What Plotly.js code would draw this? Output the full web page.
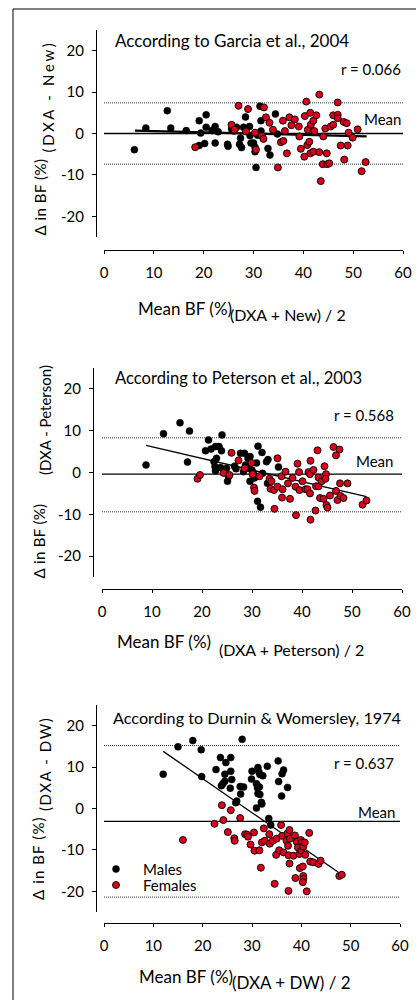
<!DOCTYPE html>
<html>
<head>
<meta charset="utf-8">
<script src="https://cdn.plot.ly/plotly-3.0.1.min.js"></script>
<style>html,body{margin:0;padding:0;background:#fff;}</style>
</head>
<body>
<div id="chart" style="width:416px;height:1000px;"></div>
<script>
// ---------- tick labels ----------
const xTickVals = [0, 10, 20, 30, 40, 50, 60];
const xTickText = ['0', '10', '20', '30', '40', '50', '60'];
const yTickVals = [-20, -10, 0, 10, 20];
const yTickText = ['-20', '-10', '0', '10', '20'];

// ---------- Panel 1: Garcia et al., 2004 ----------
const p1MaleX = [6.1, 8.4, 12.7, 13.4, 16.5, 19.1, 19.4, 19.1, 20.2, 20.5, 20.5, 21.7, 22.3, 22.3, 22.9, 24.8, 24.9, 25.6, 26.1, 26.6, 27.2, 27.4, 27.6, 28.0, 28.4, 29.2, 29.3, 29.5, 30.0, 30.3, 30.3, 30.5, 31.3, 31.5, 31.5, 32.9, 33.3, 34.4, 34.8, 30.8];
const p1MaleY = [-3.9, 1.3, 5.5, 1.3, 0.7, 3.1, 0.1, -2.9, -2.4, 4.5, 1.5, 0.7, 1.7, -2.3, 0.4, -2.6, -3.1, 1.1, 0.6, 1.5, -2.6, -1.1, -3.4, 1.5, 4.0, 1.7, -0.5, -2.3, -2.3, -3.3, -4.4, -8.2, 6.6, 3.1, 0.6, -3.6, -5.2, 4.7, -0.1, -0.4];
const p1FemX = [18.3, 25.6, 26.2, 27.0, 28.5, 28.9, 30.3, 30.5, 31.7, 32.0, 32.1, 32.5, 33.2, 33.9, 34.9, 35.5, 35.9, 36.0, 36.3, 36.7, 37.2, 37.6, 38.3, 39.1, 39.2, 39.5, 40.2, 40.3, 40.6, 40.8, 40.9, 41.2, 41.4, 41.4, 41.5, 42.0, 42.0, 42.2, 42.6, 43.2, 43.2, 43.5, 43.9, 44.0, 44.4, 44.7, 44.8, 45.2, 45.5, 46.0, 46.0, 46.9, 46.9, 46.9, 47.5, 48.1, 48.2, 48.7, 48.9, 49.1, 49.9, 50.9, 51.7, 52.5];
const p1FemY = [-3.3, 2.1, 0.9, 6.7, 0.5, 5.9, 0.2, -3.9, -0.6, -1.3, 6.3, 3.9, 2.6, 0.9, -8.2, -2.1, 3.1, -1.8, 0.6, -4.8, 3.9, 2.0, 3.4, 1.7, -0.7, -3.7, -5.6, 4.2, 7.7, -2.8, 0.9, -2.0, 5.0, -4.8, 2.1, 3.1, -4.4, 0.6, 4.4, -4.5, 9.4, -11.5, -7.4, -0.7, 1.2, -4.8, -7.4, -7.2, 1.7, 4.4, 2.1, 7.5, 4.5, 3.7, -2.9, 2.8, -6.3, 2.5, -2.9, 0.2, -1.0, 1.0, -9.1, -6.9];
const p1FitX = [6.2, 52.7];
const p1FitY = [0.7, -0.7];
const p1Mean = 0;
const p1Limits = [7.4, -7.4];
const p1R = 'r = 0.066';

// ---------- Panel 2: Peterson et al., 2003 ----------
const p2MaleX = [8.8, 12.3, 15.6, 17.5, 17.1, 21.3, 20.7, 21.8, 22.7, 23.4, 24.0, 23.9, 22.9, 22.4, 22.6, 22.7, 23.7, 24.9, 25.1, 25.3, 26.5, 26.8, 27.7, 28.5, 29.2, 29.6, 28.7, 28.3, 29.3, 30.0, 30.3, 29.6, 30.5, 30.9, 31.2, 32.0, 32.1, 31.1, 31.7, 32.9, 33.2, 33.1, 35.3];
const p2MaleY = [1.8, 9.3, 11.9, 9.9, 2.5, 7.8, 5.2, 5.6, 6.2, 6.2, 9.0, 5.2, 3.4, 2.6, 1.4, 0.4, 1.2, 1.0, -2.1, -1.0, 1.5, 0.9, 4.6, 4.6, 3.4, 3.8, 1.8, 0.2, 1.0, 0.6, -0.2, -2.1, -1.3, 2.3, 6.3, 4.8, -0.2, -6.9, -8.3, 2.6, 3.1, -2.6, 1.3];
const p2FemX = [19.1, 19.6, 24.3, 25.5, 25.9, 27.3, 28.5, 29.9, 30.1, 30.4, 30.5, 31.5, 33.5, 33.9, 33.7, 34.5, 34.4, 35.1, 35.1, 35.9, 36.1, 36.0, 36.7, 37.2, 37.6, 38.1, 38.7, 38.8, 39.1, 39.4, 39.5, 40.1, 40.7, 41.1, 41.3, 41.6, 41.6, 41.7, 41.7, 42.3, 42.7, 42.8, 43.1, 43.3, 43.3, 43.6, 43.9, 44.3, 44.5, 44.8, 44.7, 44.9, 45.1, 45.6, 46.3, 46.8, 46.8, 47.1, 47.5, 47.6, 47.7, 48.3, 49.1, 52.1, 52.9];
const p2FemY = [-1.5, -0.6, -0.1, -0.6, 4.7, 2.9, 1.0, 2.3, -0.4, -3.6, -4.4, -0.9, -1.5, -2.1, -3.9, -8.7, -4.2, 3.4, -3.4, -0.9, -4.0, -6.0, 0.2, -2.6, -6.3, -1.3, -3.4, -10.2, 2.1, 0.1, -4.2, -2.1, -4.0, -4.0, 0.1, -0.4, -5.0, 2.8, -11.3, 0.6, -9.1, -3.3, 5.3, -1.2, -3.3, -6.1, -2.1, -6.3, 1.5, -0.4, -1.5, -7.8, -8.4, -5.5, 6.1, 4.1, -4.4, -6.6, 5.5, -2.6, -5.6, -6.1, -2.6, -7.7, -6.7];
const p2FitX = [8.8, 52.9];
const p2FitY = [6.5, -5.8];
const p2Mean = -0.4;
const p2Limits = [8.3, -9.4];
const p2R = 'r = 0.568';

// ---------- Panel 3: Durnin & Womersley, 1974 ----------
const p3MaleX = [12.0, 15.0, 18.0, 19.7, 19.8, 22.7, 23.6, 24.7, 25.7, 24.5, 25.7, 25.9, 24.5, 24.1, 23.8, 25.6, 27.6, 28.3, 28.0, 27.7, 26.9, 26.7, 30.0, 29.9, 30.9, 31.2, 31.4, 31.6, 32.2, 33.1, 31.1, 31.5, 31.2, 31.6, 31.9, 32.0, 30.9, 33.4, 33.8, 35.3, 36.4, 36.1, 35.4, 36.0, 37.2];
const p3MaleY = [8.3, 14.9, 16.4, 14.2, 7.7, 9.4, 12.3, 11.1, 12.3, 8.3, 9.0, 7.0, 6.6, 6.0, 5.5, 4.9, 5.3, 5.2, 16.7, 3.5, 1.8, 1.4, 9.0, 7.1, 6.0, 9.9, 8.9, 8.2, 7.9, 10.2, 5.0, 5.2, 3.6, 3.4, 1.5, 1.1, 0.1, -2.4, -4.0, 11.5, 9.3, 8.4, 6.5, 3.0, 5.1];
const p3FemX = [16.0, 22.4, 23.9, 24.2, 25.1, 25.7, 26.4, 26.5, 27.6, 28.6, 29.0, 29.2, 29.7, 30.4, 30.5, 31.5, 31.8, 32.0, 32.4, 32.6, 33.5, 33.6, 34.2, 34.6, 34.9, 35.0, 35.5, 35.9, 36.1, 36.4, 37.0, 37.2, 37.3, 37.4, 37.6, 37.7, 37.6, 37.4, 38.4, 38.7, 38.8, 39.1, 39.3, 39.6, 39.9, 40.0, 39.7, 40.3, 40.1, 40.4, 40.4, 40.4, 40.7, 40.8, 41.1, 40.3, 41.6, 41.8, 42.4, 43.5, 43.9, 47.7, 48.2];
const p3FemY = [-7.6, -3.7, 0.8, -2.8, -5.7, -0.4, -7.2, -7.8, -2.3, -6.2, -6.3, -6.8, -8.7, -5.8, -10.2, -10.1, -14.3, -8.2, -4.8, -7.8, -6.2, -8.5, -7.8, -18.2, -11.2, -7.3, -10.1, -4.0, -6.6, -10.6, -7.8, -6.0, -9.0, -11.3, -5.2, -7.3, -13.3, -19.9, -11.4, -6.5, -16.8, -8.1, -9.4, -11.0, -7.6, -10.2, -14.4, -14.0, -8.2, -9.2, -16.3, -17.0, -8.2, -11.2, -20.0, -17.8, -5.9, -12.8, -13.0, -13.4, -12.6, -16.3, -16.0];
const p3FitX = [12.0, 47.5];
const p3FitY = [13.8, -15.4];
const p3Mean = -3.1;
const p3Limits = [15.2, -21.4];
const p3R = 'r = 0.637';

const seriesNames = ['Males', 'Females'];
const panelTitles = ['According to Garcia et al., 2004', 'According to Peterson et al., 2003', 'According to Durnin & Womersley, 1974'];
const xSubs = ['(DXA + New) / 2', '(DXA + Peterson) / 2', '(DXA + DW) / 2'];
const ySubs = ['(DXA - New)', '(DXA - Peterson)', '(DXA - DW)'];

// ---------- styling / layout helpers ----------
const W = 416, H = 1000;
const px = v => v / W;
const py = v => 1 - v / H;
const FONT = 'Lato, "Open Sans", sans-serif';
const RED = '#d9001b';
const MALE_MARKER = {size: 7, color: '#000', line: {color: '#000', width: 0.5}};
const FEM_MARKER = {size: 7, color: RED, line: {color: '#000', width: 0.9}};

const panels = [
  {mx: p1MaleX, my: p1MaleY, fx: p1FemX, fy: p1FemY, fitX: p1FitX, fitY: p1FitY, fitW: 2.2, mean: p1Mean, lim: p1Limits, r: p1R,
   xd: [104, 403], yd: [30, 237], xPos: 250, yPos: 96,
   title: [113, 40], titleSize: 17, rPos: [403, 69], meanPos: [403, 119],
   xMain: [184.5, 309], xSub: [288, 315], xSubSize: 16,
   yMain: [39, 197.5, 0.5], ySub: [47, 96.5, 2.7]},
  {mx: p2MaleX, my: p2MaleY, fx: p2FemX, fy: p2FemY, fitX: p2FitX, fitY: p2FitY, fitW: 1.3, mean: p2Mean, lim: p2Limits, r: p2R,
   xd: [102, 402], yd: [368, 577], xPos: 589, yPos: 93,
   title: [113, 378], titleSize: 16.6, rPos: [396, 415], meanPos: [395, 461],
   xMain: [164, 641], xSub: [291.5, 649], xSubSize: 16,
   yMain: [38, 541.5, 0.3], ySub: [45, 420, 0]},
  {mx: p3MaleX, my: p3MaleY, fx: p3FemX, fy: p3FemY, fitX: p3FitX, fitY: p3FitY, fitW: 1.3, mean: p3Mean, lim: p3Limits, r: p3R,
   xd: [104, 400], yd: [705, 912], xPos: 923, yPos: 96,
   title: [111, 717], titleSize: 16.2, rPos: [396, 763], meanPos: [397, 812],
   xMain: [185.5, 976], xSub: [291, 982], xSubSize: 17,
   yMain: [38, 858, 1.1], ySub: [45, 764, 1.6]}
];

const traces = [];
const shapes = [];
const annotations = [];
const layout = {
  width: W, height: H,
  margin: {l: 0, r: 0, t: 0, b: 0},
  paper_bgcolor: '#ffffff', plot_bgcolor: 'rgba(0,0,0,0)',
  font: {family: FONT, color: '#000', size: 15},
  showlegend: false,
  shapes: shapes, annotations: annotations
};

// figure frame (left and top)
shapes.push({type: 'line', xref: 'paper', yref: 'paper', x0: px(13), x1: px(13), y0: 0, y1: py(9), line: {color: '#000', width: 1}});
shapes.push({type: 'line', xref: 'paper', yref: 'paper', x0: px(13), x1: 1, y0: py(9), y1: py(9), line: {color: '#000', width: 1}});

panels.forEach((p, i) => {
  const n = i === 0 ? '' : String(i + 1);
  const xa = 'x' + n, ya = 'y' + n;
  layout['xaxis' + n] = {
    domain: [px(p.xd[0]), px(p.xd[1])], range: [0, 60], anchor: 'free', position: py(p.xPos),
    showline: true, linecolor: '#000', linewidth: 1, mirror: false,
    ticks: 'outside', ticklen: 3, tickcolor: '#000', tickwidth: 1,
    tickmode: 'array', tickvals: xTickVals, ticktext: xTickText, ticklabelstandoff: 6,
    showgrid: false, zeroline: false, fixedrange: true,
    tickfont: {family: FONT, size: 15, color: '#000'}
  };
  layout['yaxis' + n] = {
    domain: [py(p.yd[1]), py(p.yd[0])], range: [-25, 25], anchor: 'free', position: px(p.yPos), side: 'left',
    showline: true, linecolor: '#000', linewidth: 1,
    ticks: 'outside', ticklen: 4, tickcolor: '#000', tickwidth: 1,
    tickmode: 'array', tickvals: yTickVals, ticktext: yTickText, ticklabelstandoff: 5,
    showgrid: false, zeroline: false, fixedrange: true,
    tickfont: {family: FONT, size: 15, color: '#000'}
  };

  // limits of agreement (fine dotted) and mean line
  p.lim.forEach(v => shapes.push({type: 'line', xref: xa, yref: ya, x0: 0, x1: 60, y0: v, y1: v, layer: 'below',
    line: {color: '#333', width: 1, dash: '1px,1px'}}));
  shapes.push({type: 'line', xref: xa, yref: ya, x0: 0, x1: 60, y0: p.mean, y1: p.mean, layer: 'below',
    line: {color: '#000', width: 1.3}});

  // regression line
  traces.push({type: 'scatter', mode: 'lines', x: p.fitX, y: p.fitY, xaxis: xa, yaxis: ya, showlegend: false,
    hoverinfo: 'skip', line: {color: '#000', width: p.fitW}});

  // points
  traces.push({type: 'scatter', mode: 'markers', name: seriesNames[0], x: p.mx, y: p.my, xaxis: xa, yaxis: ya,
    cliponaxis: false, marker: MALE_MARKER});
  traces.push({type: 'scatter', mode: 'markers', name: seriesNames[1], x: p.fx, y: p.fy, xaxis: xa, yaxis: ya,
    cliponaxis: false, marker: FEM_MARKER});

  // texts
  annotations.push({xref: 'paper', yref: 'paper', x: px(p.title[0]), y: py(p.title[1]), xanchor: 'left', yanchor: 'middle',
    text: panelTitles[i], showarrow: false, font: {family: FONT, size: p.titleSize, color: '#000'}});
  annotations.push({xref: 'paper', yref: 'paper', x: px(p.rPos[0]), y: py(p.rPos[1]), xanchor: 'right', yanchor: 'middle',
    text: p.r, showarrow: false, font: {family: FONT, size: 15, color: '#000'}});
  annotations.push({xref: 'paper', yref: 'paper', x: px(p.meanPos[0]), y: py(p.meanPos[1]), xanchor: 'right', yanchor: 'middle',
    text: 'Mean', showarrow: false, font: {family: FONT, size: 15, color: '#000'}});
  annotations.push({xref: 'paper', yref: 'paper', x: px(p.xMain[0]), y: py(p.xMain[1]), xanchor: 'center', yanchor: 'middle',
    text: 'Mean BF (%)', showarrow: false, font: {family: FONT, size: 17, color: '#000'}});
  annotations.push({xref: 'paper', yref: 'paper', x: px(p.xSub[0]), y: py(p.xSub[1]), xanchor: 'center', yanchor: 'middle',
    text: xSubs[i], showarrow: false, font: {family: FONT, size: p.xSubSize, color: '#000'}});
  annotations.push({xref: 'paper', yref: 'paper', x: px(p.yMain[0]), y: py(p.yMain[1]), xanchor: 'center', yanchor: 'middle',
    textangle: -90, text: '<span style="letter-spacing:' + p.yMain[2] + 'px">Δ in BF (%)</span>', showarrow: false,
    font: {family: FONT, size: 15, color: '#000'}});
  annotations.push({xref: 'paper', yref: 'paper', x: px(p.ySub[0]), y: py(p.ySub[1]), xanchor: 'center', yanchor: 'middle',
    textangle: -90, text: '<span style="letter-spacing:' + p.ySub[2] + 'px">' + ySubs[i] + '</span>', showarrow: false,
    font: {family: FONT, size: 15, color: '#000'}});
});

// legend (bottom panel), drawn as marker symbols plus labels
const legendRows = [[seriesNames[0], MALE_MARKER, 869], [seriesNames[1], FEM_MARKER, 885]];
legendRows.forEach(([name, mk, yy]) => {
  const r = mk.size / 2;
  shapes.push({type: 'circle', xref: 'paper', yref: 'paper', xsizemode: 'pixel', ysizemode: 'pixel',
    xanchor: px(116), yanchor: py(yy), x0: -r, x1: r, y0: -r, y1: r,
    fillcolor: mk.color, line: {color: mk.line.color, width: mk.line.width}});
  annotations.push({xref: 'paper', yref: 'paper', x: px(141), y: py(yy), xanchor: 'left', yanchor: 'middle',
    text: name, showarrow: false, font: {family: FONT, size: 15, color: '#000'}});
});

Plotly.newPlot('chart', traces, layout, {displayModeBar: false, staticPlot: true});
</script>
</body>
</html>
